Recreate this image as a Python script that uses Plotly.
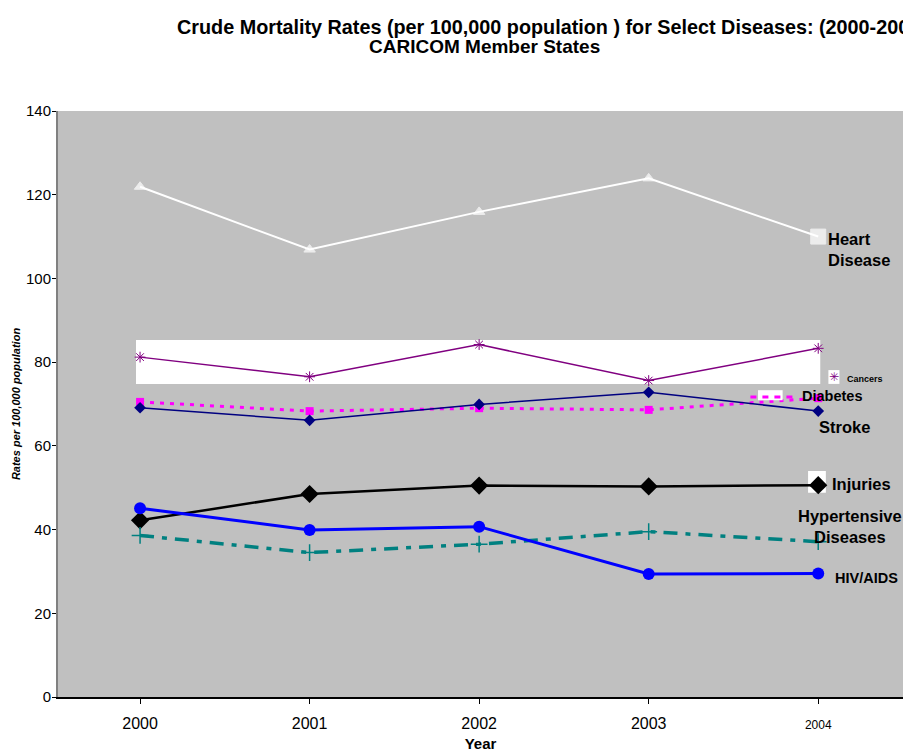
import plotly.graph_objects as go

years = ["2000", "2001", "2002", "2003", "2004"]
tick_labels = ["2000", "2001", "2002", "2003", "<span style='font-size:12px'>2004</span>"]

heart = [121.9, 106.9, 115.9, 123.9, 110.0]
cancers = [81.2, 76.5, 84.2, 75.6, 83.3]
diabetes = [70.5, 68.3, 69.0, 68.6, 71.4]
stroke = [69.1, 66.1, 69.9, 72.8, 68.3]
injuries = [42.2, 48.5, 50.5, 50.3, 50.6]
hypertensive = [38.6, 34.5, 36.5, 39.5, 37.1]
hiv = [45.1, 39.9, 40.7, 29.4, 29.5]

FONT = "Arial, 'Liberation Sans', sans-serif"
xi = list(range(len(years)))

fig = go.Figure()

fig.add_trace(go.Scatter(x=xi, y=heart, mode="lines+markers", name="Heart Disease",
    line=dict(color="white", width=2),
    marker=dict(symbol=["triangle-up"] * 4 + ["square"], size=[10, 10, 10, 10, 15], color="white")))
fig.add_trace(go.Scatter(x=xi, y=cancers, mode="lines+markers", name="Cancers",
    line=dict(color="#800080", width=1.5),
    marker=dict(symbol="asterisk-open", size=9, line=dict(color="#800080", width=1))))
fig.add_trace(go.Scatter(x=xi, y=diabetes, mode="lines+markers", name="Diabetes",
    line=dict(color="#FF00FF", width=3, dash="4px,6px"),
    marker=dict(symbol="square", size=8, color="#FF00FF")))
fig.add_trace(go.Scatter(x=xi, y=stroke, mode="lines+markers", name="Stroke",
    line=dict(color="#000080", width=1.5),
    marker=dict(symbol="diamond", size=9, color="#000080")))
fig.add_trace(go.Scatter(x=xi, y=injuries, mode="lines+markers", name="Injuries",
    line=dict(color="black", width=2.5),
    marker=dict(symbol="diamond", size=14, color="black")))
fig.add_trace(go.Scatter(x=xi, y=hypertensive, mode="lines+markers", name="Hypertensive Diseases",
    line=dict(color="#008080", width=3.5, dash="14px,8px,5px,8px"),
    marker=dict(symbol="cross-thin-open", size=12, line=dict(color="#008080", width=1.5))))
fig.add_trace(go.Scatter(x=xi, y=hiv, mode="lines+markers", name="HIV/AIDS",
    line=dict(color="#0000FF", width=3),
    marker=dict(symbol="circle", size=12, color="#0000FF")))

shapes = [
    # white box behind the Cancers line
    dict(type="rect", xref="x", yref="y", x0=-0.024, x1=4.012, y0=74.8, y1=85.3,
         fillcolor="white", line=dict(width=0), layer="below"),
    # white key boxes
    dict(type="rect", xref="x", yref="y", x0=3.94, x1=4.045, y0=48.8, y1=54.0,
         fillcolor="white", line=dict(width=0), layer="below"),
    dict(type="rect", xref="x", yref="y", x0=4.06, x1=4.125, y0=74.8, y1=78.1,
         fillcolor="white", line=dict(width=0), layer="below"),
    dict(type="rect", xref="x", yref="y", x0=3.645, x1=3.79, y0=70.9, y1=73.3,
         fillcolor="white", line=dict(width=0), layer="above"),
    dict(type="line", xref="x", yref="y", x0=3.6, x1=3.86, y0=71.7, y1=71.7,
         line=dict(color="#FF00FF", width=3, dash="6px,6px"), layer="above"),
]

labels = [
    ("Heart<br>Disease", 4.047, 106.8, 16.5, "left"),
    ("Cancers", 4.16, 76.0, 9, "left"),
    ("Diabetes", 3.894, 71.8, 14.5, "left"),
    ("Stroke", 3.994, 64.5, 16.5, "left"),
    ("Injuries", 4.07, 50.9, 16.5, "left"),
    ("Hypertensive<br>Diseases", 4.19, 40.8, 16.5, "center"),
    ("HIV/AIDS", 4.09, 28.4, 14.5, "left"),
]
annotations = []
for text, x, y, size, anchor in labels:
    annotations.append(dict(text="<b>%s</b>" % text, x=x, y=y, xref="x", yref="y",
        xanchor=anchor, yanchor="middle", showarrow=False, align=anchor,
        font=dict(family=FONT, size=size, color="black")))
annotations.append(dict(text="✳", x=4.093, y=76.5, xref="x", yref="y", showarrow=False,
    xanchor="center", yanchor="middle", font=dict(family="DejaVu Sans", size=12, color="#800080")))

# title lines
annotations.append(dict(text="<b>Crude Mortality Rates (per 100,000 population ) for Select Diseases: (2000-2004)</b>",
    x=(175 - 58) / 845, y=(697 - 27) / 586, xref="paper", yref="paper", xanchor="left", yanchor="middle",
    showarrow=False, font=dict(family=FONT, size=19.8, color="black")))
annotations.append(dict(text="<b>CARICOM Member States</b>",
    x=(367 - 58) / 845, y=(697 - 47) / 586, xref="paper", yref="paper", xanchor="left", yanchor="middle",
    showarrow=False, font=dict(family=FONT, size=19.0, color="black")))

fig.update_layout(
    width=903, height=753,
    margin=dict(l=58, r=0, t=111, b=56),
    paper_bgcolor="white", plot_bgcolor="#C0C0C0",
    showlegend=False,
    font=dict(family=FONT, color="black"),
    shapes=shapes, annotations=annotations,
    xaxis=dict(range=[-0.484, 4.5], tickvals=xi, ticktext=tick_labels, tickson="boundaries",
               ticks="outside", ticklen=5, tickcolor="black", showgrid=False, zeroline=False,
               showline=True, linecolor="black", linewidth=1.5, ticklabelstandoff=6,
               tickfont=dict(family=FONT, size=16, color="black"),
               title=dict(text="<b>Year</b>", font=dict(family=FONT, size=15, color="black"), standoff=8)),
    yaxis=dict(range=[0, 140], dtick=20, ticks="outside", ticklen=4, tickcolor="black",
               showgrid=False, zeroline=False, showline=True, linecolor="#808080", linewidth=2,
               tickfont=dict(family=FONT, size=15, color="black"), ticklabelstandoff=-2,
               title=dict(text="<b><i>Rates per 100,000 population</i></b>",
                          font=dict(family=FONT, size=11, color="black"), standoff=3)),
)

fig.write_html("out.html", config={"displayModeBar": False},
               post_script="document.body.style.margin='0px';document.body.style.overflow='hidden';")
